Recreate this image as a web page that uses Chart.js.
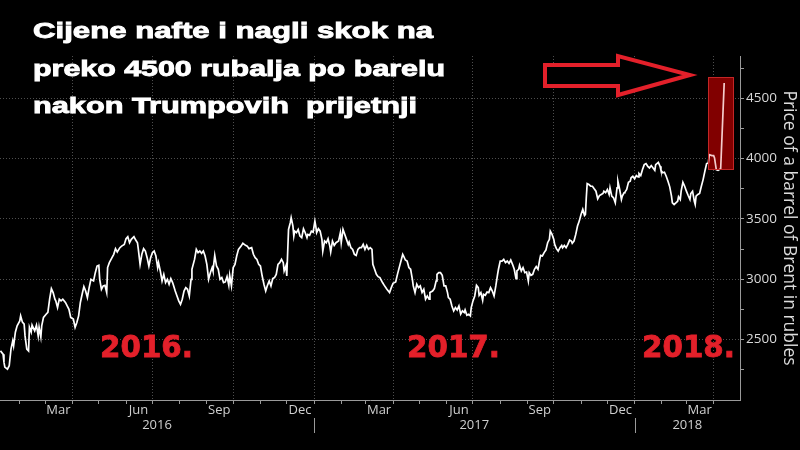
<!DOCTYPE html>
<html>
<head>
<meta charset="utf-8">
<script src="https://cdn.jsdelivr.net/npm/chart.js@4.4.1/dist/chart.umd.min.js"></script>
<style>
html,body{margin:0;padding:0;background:#000;}
#wrap{width:800px;height:450px;position:relative;background:#000;}
</style>
</head>
<body>
<div id="wrap"><canvas id="c" width="800" height="450"></canvas></div>
<script>
// Days since 2016-01-01
const days = [9,12,13,14,17,19,21,23,24,26,28,31,32,34,36,37,39,41,42,44,45,48,50,52,53,55,56,58,61,63,65,67,69,71,72,74,76,78,80,83,85,87,89,92,94,96,98,100,102,104,106,108,110,112,115,117,119,121,122,124,126,128,130,131,133,136,138,140,142,145,147,150,152,154,156,158,161,163,165,166,168,170,172,174,176,178,180,182,184,186,188,189,191,193,195,197,199,201,203,205,206,208,210,212,214,216,218,220,
222,224,226,227,230,232,234,236,238,240,242,244,246,248,250,251,253,255,257,259,261,263,265,267,269,270,272,274,276,278,280,283,285,288,290,292,295,297,299,301,303,305,307,309,311,313,315,317,319,321,323,325,327,329,331,332,334,335,337,339,340,342,343,344,346,348,350,352,354,356,358,359,361,363,365,367,368,369,371,373,375,376,378,380,382,384,385,387,389,391,394,396,397,399,401,403,405,406,408,410,412,414,416,418,420,422,424,426,428,430,432,433,435,437,
439,441,444,446,449,452,454,456,459,461,463,465,467,468,470,472,474,476,478,479,481,483,485,487,489,491,493,495,497,498,501,503,505,506,508,510,512,514,516,518,519,521,523,525,527,529,531,533,535,537,538,540,542,544,545,547,549,551,553,554,556,558,559,561,563,565,567,569,571,573,575,576,578,580,582,584,586,588,590,592,594,596,597,599,600,602,604,606,608,610,611,613,615,617,619,621,623,624,626,628,630,632,634,635,637,639,640,642,644,646,648,
649,651,653,655,657,659,660,662,664,666,668,670,672,674,675,676,677,679,681,683,685,687,689,691,693,695,696,698,700,702,703,705,707,709,711,712,714,716,717,719,720,722,724,726,727,729,731,733,735,736,738,740,742,744,746,748,750,752,754,755,758,760,761,763,765,767,769,771,773,774,776,778,780,781,783,784,786,788,790,792,794,795,797,799,800,801,803,805,807,809,811,813,815,816,819,821,822,824,826,829,833];

// Price of a barrel of Brent in rubles
const prices = [2407,2380,2314,2273,2256,2284,2422,2490,2449,2562,2614,2655,2697,2645,2628,2531,2422,2407,2603,2562,2620,2573,2620,2531,2603,2521,2614,2684,2711,2727,2835,2923,2890,2835,2821,2766,2835,2821,2835,2808,2779,2752,2684,2670,2601,2642,2697,2808,2876,2940,2903,2849,2931,3000,2986,3055,3110,3116,3000,2917,2945,2950,2890,3097,3138,3179,3207,3254,3226,3262,3275,3289,3336,3353,3303,3331,3353,3325,3303,3248,3124,3207,3254,3234,3179,3110,3179,3221,3234,3193,3097,3138,3069,2986,3041,2973,3000,2959,3006,2973,2950,2903,2862,2821,2793,2835,2903,2931,
2917,2862,3000,3083,3165,3248,3221,3234,3215,3234,3193,3124,3000,3055,3097,3069,3198,3110,3083,3000,3014,2973,2978,3022,2950,3033,2945,3097,3124,3193,3248,3275,3298,3281,3275,3254,3262,3207,3179,3165,3124,3110,3027,2959,2903,2950,2986,2945,3006,3014,3041,3124,3138,3165,3138,3069,3110,3027,3413,3469,3510,3441,3358,3399,3386,3413,3358,3345,3419,3386,3345,3372,3364,3399,3391,3482,3441,3386,3419,3399,3331,3234,3317,3303,3336,3275,3226,3317,3281,3303,3317,3386,3303,3413,3372,3331,3289,3308,3262,3248,3207,3198,3248,3262,3262,3289,3248,3281,3248,3262,3248,3124,3083,3041,
3022,3014,2973,2950,2917,2890,2931,2967,2978,3041,3097,3151,3207,3193,3160,3151,3097,3083,3000,2945,2890,2959,2931,2945,2890,2917,2835,2862,2835,2890,2903,2923,2986,3041,3055,3055,3033,2945,2945,2890,2849,2835,2779,2738,2766,2746,2779,2711,2738,2725,2746,2703,2711,2697,2766,2821,2862,2950,2931,2868,2890,2826,2876,2868,2895,2890,2931,2903,2862,2945,3041,3083,3151,3151,3165,3138,3151,3132,3160,3124,3083,3006,3069,3083,3116,3069,3097,3055,3060,2986,3055,3033,3041,3083,3105,3083,3165,3198,3193,3221,3242,3303,3331,3399,3372,3331,3289,3254,3234,3262,3281,
3262,3281,3262,3289,3325,3317,3298,3317,3372,3441,3482,3537,3579,3529,3537,3675,3793,3785,3771,3771,3750,3730,3667,3694,3703,3711,3730,3717,3744,3703,3758,3689,3675,3634,3758,3812,3744,3661,3689,3717,3722,3744,3804,3812,3841,3854,3832,3860,3849,3876,3860,3909,3950,3959,3936,3923,3942,3923,3903,3950,3969,3936,3903,3882,3887,3854,3812,3766,3689,3634,3620,3634,3647,3684,3661,3730,3804,3771,3730,3694,3661,3711,3730,3647,3620,3689,3703,3711,3771,3826,3895,3959,3964,4033,4025,4025,4006,3909,3903,3915,4626];

// X axis: month starts (days since 2016-01-01) and the quarter labels shown before them
const monthTickDays = [31,60,91,121,152,182,213,244,274,305,335,366,397,425,456,486,517,547,578,609,639,670,700,731,762,790,821];
const monthTickLabels = ['','','Mar','','','Jun','','','Sep','','','Dec','','','Mar','','','Jun','','','Sep','','','Dec','','','Mar'];
const yearLabels = ['2016','2017','2018'];
const yearStartDays = [0,366,731,1096];

// Y axis
const yTickValues = [2250,2500,2750,3000,3250,3500,3750,4000,4250,4500,4750];
const yTickLabels = ['','2500','','3000','','3500','','4000','','4500',''];
const axisTitle = 'Price of a barrel of Brent in rubles';

// Annotation texts
const titleLines = ['Cijene nafte i nagli skok na','preko 4500 rubalja po barelu','nakon Trumpovih  prijetnji'];
const yearMarks = ['2016.','2017.','2018.'];

const bgPlugin = {
  id: 'bg',
  beforeDraw(chart) {
    const c = chart.ctx;
    c.save();
    c.fillStyle = '#000';
    c.fillRect(0, 0, chart.width, chart.height);
    c.restore();
  }
};

const overlayPlugin = {
  id: 'overlay',
  beforeDatasetsDraw(chart) {
    const c = chart.ctx, xs = chart.scales.x, ys = chart.scales.y;
    const x1 = xs.getPixelForValue(815), x2 = xs.getPixelForValue(844);
    const y1 = ys.getPixelForValue(4675), y2 = ys.getPixelForValue(3910);
    c.save();
    c.fillStyle = 'rgb(112,0,0)';
    c.fillRect(x1, y1, x2 - x1, y2 - y1);
    c.restore();
  },
  afterDatasetsDraw(chart) {
    const c = chart.ctx, xs = chart.scales.x, ys = chart.scales.y;
    const x1 = xs.getPixelForValue(815), x2 = xs.getPixelForValue(844);
    const y1 = ys.getPixelForValue(4675), y2 = ys.getPixelForValue(3910);
    c.save();
    c.fillStyle = 'rgba(200,0,0,0.2)';
    c.fillRect(x1, y1, x2 - x1, y2 - y1);
    c.strokeStyle = 'rgba(200,40,40,0.95)';
    c.lineWidth = 1;
    c.strokeRect(Math.round(x1) + 0.5, Math.round(y1) + 0.5, Math.round(x2 - x1), Math.round(y2 - y1));
    c.restore();
  },
  afterDraw(chart) {
    const c = chart.ctx, xs = chart.scales.x;
    c.save();
    // Year row under the month labels
    c.font = '13px "Open Sans"';
    c.fillStyle = '#cfcfcf';
    c.textAlign = 'center';
    c.textBaseline = 'middle';
    for (let i = 0; i < yearLabels.length; i++) {
      const a = Math.max(yearStartDays[i], xs.min), b = Math.min(yearStartDays[i + 1], xs.max);
      const cx = (xs.getPixelForValue(a) + xs.getPixelForValue(b)) / 2;
      c.fillText(yearLabels[i], cx, 425);
      if (i > 0) {
        const px = Math.round(xs.getPixelForValue(yearStartDays[i])) + 0.5;
        c.strokeStyle = '#9a9a9a';
        c.lineWidth = 1;
        c.beginPath(); c.moveTo(px, 418); c.lineTo(px, 433); c.stroke();
      }
    }

    // Arrow
    c.beginPath();
    c.moveTo(545, 65); c.lineTo(618, 65); c.lineTo(618, 56); c.lineTo(690, 75);
    c.lineTo(618, 95); c.lineTo(618, 86); c.lineTo(545, 86); c.closePath();
    c.fillStyle = '#000';
    c.fill();
    c.strokeStyle = '#e3202a';
    c.lineWidth = 4;
    c.lineJoin = 'miter';
    c.stroke();

    // Title text
    c.textAlign = 'left';
    c.textBaseline = 'alphabetic';
    c.font = 'bold 22.5px "Liberation Sans"';
    c.fillStyle = '#fff';
    c.strokeStyle = '#fff';
    c.lineWidth = 0.9;
    const tw = [400, 412, 384], tb = [38, 75.5, 112.5];
    titleLines.forEach((t, i) => {
      const w = c.measureText(t).width;
      c.save();
      c.translate(33, tb[i]);
      c.scale(tw[i] / w, 1);
      c.fillText(t, 0, 0);
      c.strokeText(t, 0, 0);
      c.restore();
    });

    // Red year marks
    c.font = 'bold 30px "DejaVu Sans"';
    c.fillStyle = '#e3202a';
    c.strokeStyle = '#e3202a';
    c.lineWidth = 0.8;
    const mx = [100, 407, 642];
    yearMarks.forEach((t, i) => {
      const w = c.measureText(t).width;
      c.save();
      c.translate(mx[i], 357);
      c.scale(93 / w, 1);
      c.fillText(t, 0, 0);
      c.strokeText(t, 0, 0);
      c.restore();
    });
    c.restore();
  }
};

new Chart(document.getElementById('c'), {
  type: 'line',
  data: {
    datasets: [{
      data: days.map((d, i) => ({ x: d, y: prices[i] })),
      borderColor: '#ffffff',
      borderWidth: 1.7,
      pointRadius: 0,
      tension: 0,
      fill: false
    }]
  },
  options: {
    responsive: false,
    animation: false,
    devicePixelRatio: 1,
    layout: { padding: { top: 56, left: 0, right: 0, bottom: 0 } },
    plugins: { legend: { display: false }, tooltip: { enabled: false } },
    scales: {
      x: {
        type: 'linear',
        position: 'bottom',
        min: 8.5,
        max: 851,
        afterBuildTicks: s => { s.ticks = monthTickDays.map(v => ({ value: v })); },
        afterFit: s => { s.height = 50; },
        grid: {
          color: c => (monthTickLabels[c.index] ? '#4e4e4e' : 'rgba(0,0,0,0)'),
          lineWidth: 1,
          drawTicks: true,
          tickLength: 4,
          tickColor: '#9a9a9a',
          tickWidth: 1
        },
        border: { display: true, color: '#9a9a9a', width: 1, dash: [1, 2] },
        ticks: {
          autoSkip: false,
          maxRotation: 0,
          minRotation: 0,
          labelOffset: -14,
          padding: -2,
          color: '#cfcfcf',
          font: { family: '"Open Sans"', size: 13 },
          callback: (v, i) => monthTickLabels[i]
        }
      },
      y: {
        type: 'linear',
        position: 'right',
        min: 2000,
        max: 4850,
        afterBuildTicks: s => { s.ticks = yTickValues.map(v => ({ value: v })); },
        afterFit: s => { s.width = 60; },
        grid: {
          color: c => (yTickLabels[c.index] ? '#4e4e4e' : 'rgba(0,0,0,0)'),
          lineWidth: 1,
          drawTicks: true,
          tickLength: 4,
          tickColor: '#9a9a9a',
          tickWidth: 1
        },
        border: { display: true, color: '#9a9a9a', width: 1, dash: [1, 2] },
        ticks: {
          padding: 2,
          color: '#d8d8d8',
          font: { family: '"Open Sans"', size: 13.5 },
          callback: (v, i) => yTickLabels[i]
        },
        title: {
          display: true,
          text: axisTitle,
          color: '#dcdcdc',
          font: { family: '"Open Sans"', size: 17.5 },
          padding: { top: 1, bottom: 0 }
        }
      }
    }
  },
  plugins: [bgPlugin, overlayPlugin]
});
</script>
</body>
</html>
